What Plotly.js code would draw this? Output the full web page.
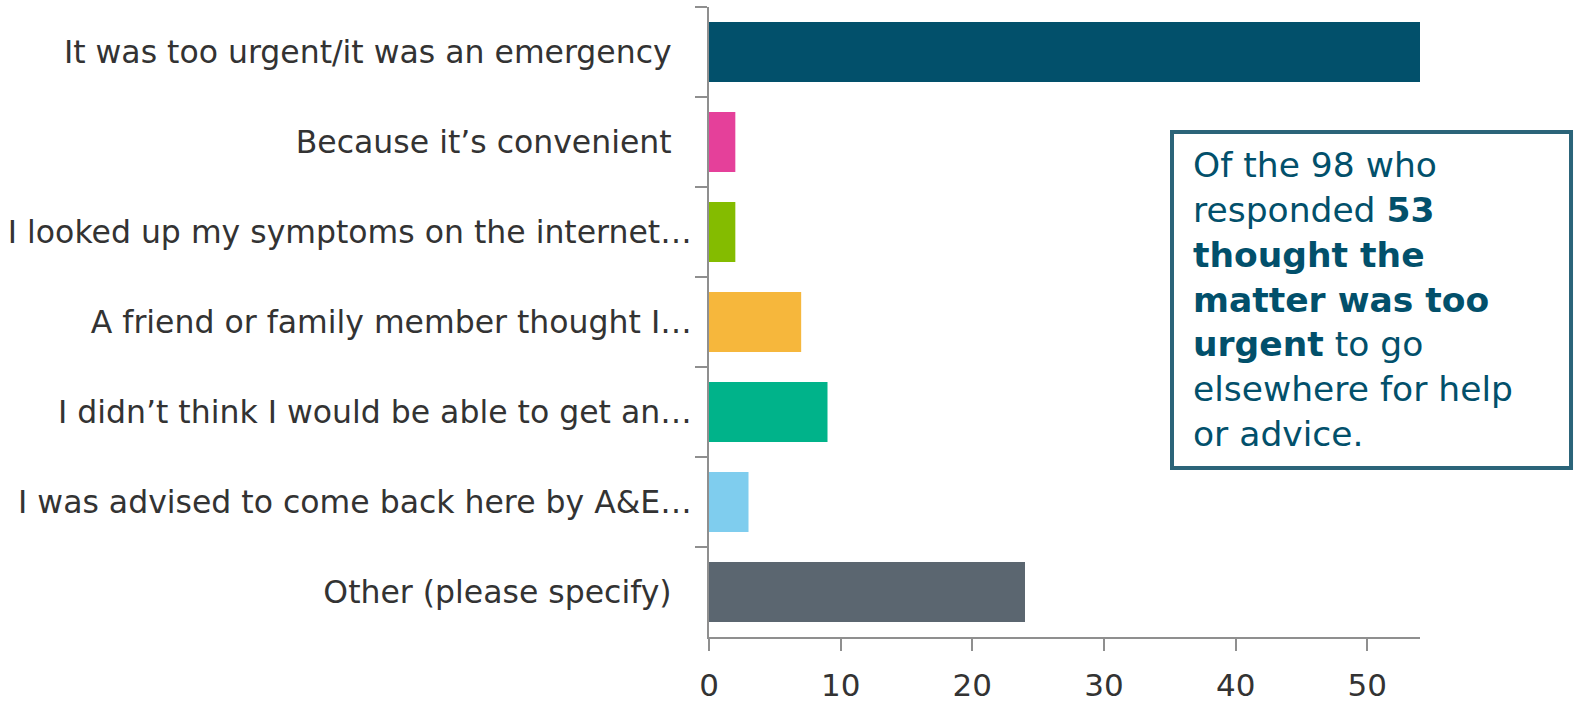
<!DOCTYPE html>
<html>
<head>
<meta charset="utf-8">
<script src="https://cdn.plot.ly/plotly-3.0.1.min.js"></script>
<style>html,body{margin:0;padding:0;background:#fff;}#chart{width:1574px;height:702px;}</style>
</head>
<body>
<div id="chart"></div>
<script>
const categories = [
  "It was too urgent/it was an emergency\u00a0\u00a0",
  "Because it\u2019s convenient\u00a0\u00a0",
  "I looked up my symptoms on the internet\u2026",
  "A friend or family member thought I\u2026",
  "I didn\u2019t think I would be able to get an\u2026",
  "I was advised to come back here by A&E\u2026",
  "Other (please specify)\u00a0\u00a0"
];
const values = [54, 2, 2, 7, 9, 3, 24];
const barColors = ["#02506B", "#E5409A", "#84BC00", "#F6B73C", "#00B38A", "#7FCDEE", "#5B6670"];
const xTickValues = [0, 10, 20, 30, 40, 50];
const noteLines = [
  "Of the 98 who",
  "responded <b>53</b>",
  "<b>thought the</b>",
  "<b>matter was too</b>",
  "<b>urgent</b> to go",
  "elsewhere for help",
  "or advice."
];

const FONT = "DejaVu Sans, sans-serif";
const axisGrey = "#8f8f8f";

const trace = {
  type: "bar",
  orientation: "h",
  y: categories,
  x: values,
  marker: { color: barColors, line: { width: 0 } },
  hoverinfo: "x+y"
};

const layout = {
  width: 1574,
  height: 702,
  margin: { l: 709, r: 154, t: 7, b: 65, pad: 0 },
  paper_bgcolor: "#ffffff",
  plot_bgcolor: "#ffffff",
  showlegend: false,
  bargap: 0.333,
  font: { family: FONT, color: "#333333" },
  xaxis: {
    range: [0, 54],
    tickvals: xTickValues,
    ticktext: xTickValues.map(String),
    showgrid: false,
    zeroline: false,
    showline: true,
    linecolor: axisGrey,
    linewidth: 2,
    ticks: "outside",
    ticklen: 12,
    tickwidth: 2,
    tickcolor: axisGrey,
    tickfont: { family: FONT, size: 31, color: "#333333" },
    ticklabelstandoff: 8,
    fixedrange: true
  },
  yaxis: {
    type: "category",
    autorange: "reversed",
    showgrid: false,
    zeroline: false,
    showline: true,
    linecolor: axisGrey,
    linewidth: 2,
    ticks: "outside",
    tickson: "boundaries",
    ticklen: 12,
    tickwidth: 2,
    tickcolor: axisGrey,
    tickfont: { family: FONT, size: 31.5, color: "#333333" },
    ticklabelstandoff: 9,
    fixedrange: true
  },
  shapes: [{
    type: "rect",
    xref: "paper", yref: "paper",
    x0: 0.6512, x1: 1.2124, y0: 0.2683, y1: 0.8016,
    line: { color: "#2B6479", width: 4 },
    fillcolor: "rgba(255,255,255,0)"
  }],
  annotations: [{
    xref: "paper", yref: "paper",
    x: 0.6793, y: 0.783,
    xanchor: "left", yanchor: "top",
    align: "left",
    showarrow: false,
    borderpad: 0,
    text: noteLines.join("<br>"),
    font: { family: FONT, size: 34.5, color: "#02506B" }
  }]
};

Plotly.newPlot("chart", [trace], layout, { displayModeBar: false, staticPlot: true });
</script>
</body>
</html>
